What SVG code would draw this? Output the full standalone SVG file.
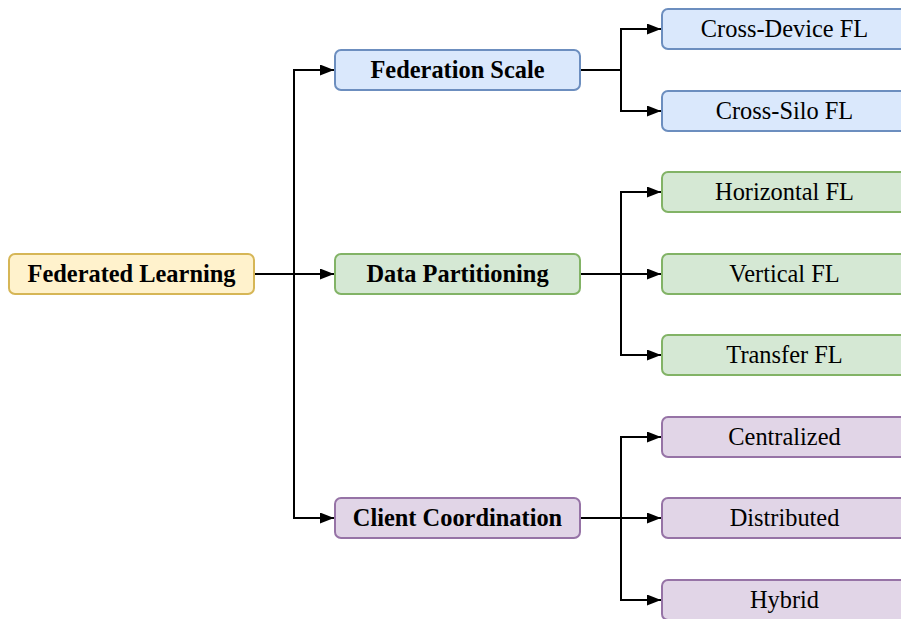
<svg xmlns="http://www.w3.org/2000/svg" width="901" height="619" viewBox="0 0 901 619">
  <defs>
    <marker id="arrow" viewBox="0 0 14 11" refX="14" refY="5.5" markerWidth="14" markerHeight="11" markerUnits="userSpaceOnUse" orient="auto">
      <path d="M0,0 L14,5.5 L0,11 Z" fill="#000"/>
    </marker>
    <style>
      .box { stroke-width: 2; }
      .yellow { fill: #fff2cc; stroke: #d6b656; }
      .blue { fill: #dae8fc; stroke: #6c8ebf; }
      .green { fill: #d5e8d4; stroke: #82b366; }
      .purple { fill: #e1d5e7; stroke: #9673a6; }
      .lbl { font-family: "Liberation Serif", "Times New Roman", serif; font-size: 24.4px; fill: #000; text-anchor: middle; }
      .bold { font-weight: bold; }
      .edge { fill: none; stroke: #000; stroke-width: 2; }
      .arr { marker-end: url(#arrow); }
    </style>
  </defs>
  <rect width="901" height="619" fill="#fff"/>

  <!-- connectors -->
  <g id="connectors">
    <!-- root to categories -->
    <path class="edge arr" d="M254,274 H334"/>
    <path class="edge arr" d="M294,274 V70 H334"/>
    <path class="edge arr" d="M294,274 V518 H334"/>
    <!-- federation scale -->
    <path class="edge arr" d="M580,70 H621 V29 H661"/>
    <path class="edge arr" d="M621,70 V111 H661"/>
    <!-- data partitioning -->
    <path class="edge arr" d="M580,274 H661"/>
    <path class="edge arr" d="M621,274 V192 H661"/>
    <path class="edge arr" d="M621,274 V355 H661"/>
    <!-- client coordination -->
    <path class="edge arr" d="M580,518 H661"/>
    <path class="edge arr" d="M621,518 V437 H661"/>
    <path class="edge arr" d="M621,518 V600 H661"/>
  </g>

  <!-- root -->
  <g id="federated-learning">
    <rect class="box yellow" x="9" y="254" width="245" height="40" rx="6"/>
    <text class="lbl bold" x="131.5" y="282">Federated Learning</text>
  </g>

  <!-- categories -->
  <g id="federation-scale">
    <rect class="box blue" x="335" y="50" width="245" height="40" rx="6"/>
    <text class="lbl bold" x="457.5" y="78">Federation Scale</text>
  </g>
  <g id="data-partitioning">
    <rect class="box green" x="335" y="254" width="245" height="40" rx="6"/>
    <text class="lbl bold" x="457.5" y="282">Data Partitioning</text>
  </g>
  <g id="client-coordination">
    <rect class="box purple" x="335" y="498" width="245" height="40" rx="6"/>
    <text class="lbl bold" x="457.5" y="526">Client Coordination</text>
  </g>

  <!-- leaves -->
  <g id="cross-device">
    <rect class="box blue" x="662" y="9" width="245" height="40" rx="6"/>
    <text class="lbl" x="784.5" y="37">Cross-Device FL</text>
  </g>
  <g id="cross-silo">
    <rect class="box blue" x="662" y="91" width="245" height="40" rx="6"/>
    <text class="lbl" x="784.5" y="119">Cross-Silo FL</text>
  </g>
  <g id="horizontal">
    <rect class="box green" x="662" y="172" width="245" height="40" rx="6"/>
    <text class="lbl" x="784.5" y="200">Horizontal FL</text>
  </g>
  <g id="vertical">
    <rect class="box green" x="662" y="254" width="245" height="40" rx="6"/>
    <text class="lbl" x="784.5" y="282">Vertical FL</text>
  </g>
  <g id="transfer">
    <rect class="box green" x="662" y="335" width="245" height="40" rx="6"/>
    <text class="lbl" x="784.5" y="363">Transfer FL</text>
  </g>
  <g id="centralized">
    <rect class="box purple" x="662" y="417" width="245" height="40" rx="6"/>
    <text class="lbl" x="784.5" y="445">Centralized</text>
  </g>
  <g id="distributed">
    <rect class="box purple" x="662" y="498" width="245" height="40" rx="6"/>
    <text class="lbl" x="784.5" y="526">Distributed</text>
  </g>
  <g id="hybrid">
    <rect class="box purple" x="662" y="580" width="245" height="40" rx="6"/>
    <text class="lbl" x="784.5" y="608">Hybrid</text>
  </g>
</svg>
